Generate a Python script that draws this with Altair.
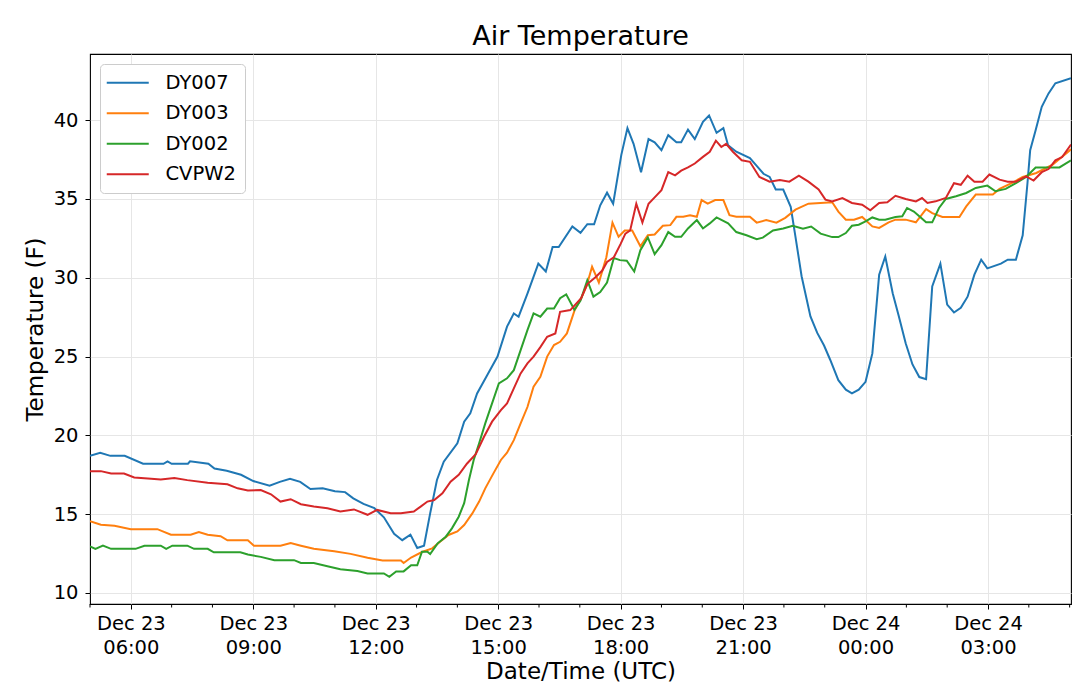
import altair as alt
import pandas as pd

# ---------------- data (hours since 2018-12-23 00:00 UTC, temperature F) ----------------
STATIONS = ["DY007", "DY003", "DY002", "CVPW2"]
COLORS = ["#1f77b4", "#ff7f0e", "#2ca02c", "#d62728"]

DY007_H = [5.0, 5.25, 5.5, 5.85, 6.3, 6.8, 6.9, 7.0, 7.4, 7.45, 7.9, 8.05, 8.35, 8.7, 9.0, 9.4,
           9.65, 9.9, 10.15, 10.4, 10.7, 11.0, 11.25, 11.45, 11.7, 11.96, 12.2, 12.45, 12.65,
           12.85, 13.02, 13.18, 13.34, 13.5, 13.67, 14.0, 14.16, 14.32, 14.49, 14.73, 14.98,
           15.22, 15.38, 15.5, 15.71, 15.99, 16.16, 16.33, 16.49, 16.82, 17.02, 17.18, 17.35,
           17.5, 17.66, 17.82, 18.02, 18.17, 18.31, 18.5, 18.68, 18.84, 19.0, 19.17, 19.37,
           19.49, 19.65, 19.82, 20.02, 20.17, 20.35, 20.51, 20.63, 20.84, 21.16, 21.33, 21.5,
           21.65, 21.8, 21.98, 22.16, 22.28, 22.44, 22.65, 22.81, 22.98, 23.14, 23.34, 23.51,
           23.67, 23.84, 24.0, 24.16, 24.33, 24.49, 24.66, 24.82, 24.98, 25.15, 25.31, 25.49,
           25.64, 25.84, 26.0, 26.17, 26.34, 26.5, 26.66, 26.83, 26.99, 27.32, 27.48, 27.69,
           27.85, 27.96, 28.04, 28.16, 28.32, 28.49, 28.65, 29.03]
DY007_T = [18.7, 18.9, 18.7, 18.7, 18.2, 18.2, 18.35, 18.2, 18.2, 18.35, 18.2, 17.9, 17.75,
           17.5, 17.1, 16.8, 17.05, 17.25, 17.05, 16.6, 16.65, 16.45, 16.4, 16.0, 15.65, 15.38,
           14.8, 13.75, 13.35, 13.7, 12.85, 13.0, 15.05, 17.17, 18.33, 19.5, 20.87, 21.4, 22.66,
           23.83, 25.0, 26.9, 27.74, 27.53, 29.0, 30.9, 30.4, 31.95, 31.95, 33.26, 32.85, 33.4,
           33.4, 34.6, 35.4, 34.7, 37.8, 39.5, 38.5, 36.7, 38.8, 38.6, 38.1, 39.05, 38.6, 38.6,
           39.4, 38.8, 39.9, 40.3, 39.2, 39.5, 38.4, 38.0, 37.6, 37.1, 36.6, 36.4, 35.6, 35.6,
           34.5, 32.6, 30.1, 27.55, 26.5, 25.7, 24.8, 23.5, 22.9, 22.67, 22.9, 23.4, 25.2, 30.2,
           31.35, 29.0, 27.55, 25.85, 24.5, 23.7, 23.56, 29.45, 30.9, 28.3, 27.8, 28.1, 28.8,
           30.2, 31.15, 30.6, 30.9, 31.15, 31.15, 32.7, 36.0, 38.1, 39.36, 40.85, 41.7, 42.34,
           42.66]

DY003_H = [5.0, 5.27, 5.6, 6.0, 6.65, 6.98, 7.47, 7.67, 7.88, 8.2, 8.37, 8.86, 9.02, 9.67, 9.92,
           10.16, 10.49, 10.98, 11.39, 11.8, 12.16, 12.61, 12.69, 12.86, 13.14, 13.39, 13.59,
           13.79, 14.0, 14.16, 14.36, 14.53, 14.69, 14.89, 15.06, 15.22, 15.38, 15.55, 15.71,
           15.87, 16.03, 16.2, 16.36, 16.52, 16.69, 16.86, 17.05, 17.17, 17.3, 17.47, 17.65,
           17.8, 17.95, 18.1, 18.28, 18.49, 18.66, 18.84, 19.04, 19.21, 19.37, 19.53, 19.7,
           19.86, 19.98, 20.14, 20.31, 20.51, 20.67, 20.84, 21.16, 21.33, 21.57, 21.81, 22.03,
           22.28, 22.6, 23.18, 23.34, 23.51, 23.71, 23.92, 24.16, 24.33, 24.57, 24.74, 24.98,
           25.23, 25.48, 25.64, 25.89, 26.3, 26.46, 26.7, 27.11, 27.28, 27.61, 27.85, 28.18,
           28.59, 29.03]
DY003_T = [14.55, 14.33, 14.26, 14.05, 14.05, 13.7, 13.7, 13.87, 13.7, 13.6, 13.34, 13.34, 13.0,
           13.0, 13.17, 13.0, 12.8, 12.65, 12.48, 12.23, 12.06, 12.06, 11.9, 12.25, 12.6, 12.83,
           13.26, 13.68, 13.9, 14.31, 15.05, 15.8, 16.64, 17.59, 18.44, 18.9, 19.7, 20.76, 21.8,
           23.09, 23.72, 25.0, 25.73, 25.94, 26.47, 27.9, 28.8, 29.5, 30.7, 29.7, 31.3, 33.5,
           32.6, 33.0, 33.0, 32.0, 32.7, 32.75, 33.3, 33.34, 33.87, 33.87, 33.97, 33.87, 34.93,
           34.7, 34.93, 34.93, 33.97, 33.87, 33.87, 33.5, 33.66, 33.5, 33.8, 34.32, 34.7, 34.79,
           34.2, 33.69, 33.69, 33.86, 33.26, 33.16, 33.52, 33.69, 33.69, 33.52, 34.36, 34.1,
           33.86, 33.86, 34.53, 35.28, 35.28, 35.64, 36.06, 36.4, 36.65, 37.18, 38.15]

DY002_H = [5.0, 5.14, 5.31, 5.51, 6.12, 6.33, 6.73, 6.86, 7.02, 7.39, 7.55, 7.88, 8.04, 8.69,
           8.86, 9.18, 9.51, 10.0, 10.16, 10.49, 10.82, 11.14, 11.55, 11.8, 12.2, 12.33, 12.5,
           12.69, 12.86, 13.02, 13.14, 13.26, 13.34, 13.51, 13.71, 13.87, 14.04, 14.16, 14.28,
           14.4, 14.53, 14.69, 14.85, 15.02, 15.22, 15.38, 15.55, 15.71, 15.87, 16.03, 16.2,
           16.36, 16.52, 16.67, 16.86, 17.02, 17.18, 17.34, 17.5, 17.66, 17.84, 17.98, 18.15,
           18.33, 18.49, 18.66, 18.84, 19.0, 19.17, 19.33, 19.49, 19.65, 19.86, 20.02, 20.18,
           20.35, 20.63, 20.84, 21.08, 21.33, 21.49, 21.73, 21.98, 22.22, 22.46, 22.67, 22.9,
           23.18, 23.34, 23.51, 23.67, 23.84, 24.0, 24.16, 24.33, 24.49, 24.74, 24.9, 25.02,
           25.19, 25.31, 25.48, 25.64, 25.8, 25.97, 26.21, 26.46, 26.7, 26.98, 27.19, 27.43,
           27.69, 27.93, 28.16, 28.75, 29.03]
DY002_T = [12.96, 12.8, 13.0, 12.8, 12.8, 13.0, 13.0, 12.8, 13.0, 13.0, 12.8, 12.8, 12.58,
           12.58, 12.44, 12.29, 12.08, 12.08, 11.9, 11.9, 11.7, 11.5, 11.39, 11.24, 11.24, 11.03,
           11.37, 11.37, 11.76, 11.76, 12.62, 12.62, 12.47, 13.15, 13.57, 14.1, 14.84, 15.7,
           17.17, 18.44, 19.5, 20.76, 22.03, 23.3, 23.62, 24.14, 25.41, 26.68, 27.74, 27.53,
           28.05, 28.05, 28.7, 28.95, 27.97, 28.56, 29.85, 28.8, 29.1, 29.7, 31.25, 31.12, 31.08,
           30.4, 31.75, 32.56, 31.5, 32.07, 32.9, 32.6, 32.6, 33.13, 33.66, 33.13, 33.45, 33.83,
           33.45, 32.9, 32.7, 32.45, 32.55, 33.0, 33.13, 33.3, 33.12, 33.25, 32.8, 32.58, 32.58,
           32.84, 33.3, 33.37, 33.58, 33.83, 33.69, 33.69, 33.86, 33.9, 34.43, 34.2, 33.9, 33.52,
           33.52, 34.43, 35.0, 35.17, 35.38, 35.7, 35.85, 35.49, 35.64, 36.0, 36.4, 37.0, 37.0,
           37.45]

CVPW2_H = [5.0, 5.27, 5.51, 5.84, 6.08, 6.41, 6.73, 7.06, 7.39, 7.88, 8.37, 8.61, 8.86, 9.18,
           9.43, 9.67, 9.92, 10.16, 10.49, 10.82, 11.14, 11.47, 11.8, 12.04, 12.37, 12.61, 12.94,
           13.1, 13.26, 13.43, 13.63, 13.83, 14.04, 14.24, 14.45, 14.65, 14.85, 15.06, 15.22,
           15.38, 15.55, 15.71, 15.87, 16.03, 16.2, 16.4, 16.52, 16.77, 17.03, 17.18, 17.39,
           17.55, 17.67, 17.84, 18.0, 18.12, 18.24, 18.38, 18.53, 18.69, 18.84, 19.0, 19.17,
           19.33, 19.49, 19.65, 19.82, 20.02, 20.18, 20.33, 20.47, 20.59, 20.75, 20.96, 21.16,
           21.4, 21.65, 21.9, 22.14, 22.36, 22.6, 22.85, 23.02, 23.18, 23.43, 23.67, 23.92,
           24.12, 24.33, 24.53, 24.74, 24.98, 25.23, 25.39, 25.52, 25.72, 25.97, 26.17, 26.34,
           26.5, 26.66, 26.87, 27.03, 27.28, 27.48, 27.69, 27.93, 28.12, 28.32, 28.49, 28.65,
           28.81, 29.03]
CVPW2_T = [17.73, 17.73, 17.58, 17.58, 17.33, 17.27, 17.2, 17.3, 17.16, 17.0, 16.9, 16.64, 16.5,
           16.53, 16.26, 15.8, 15.95, 15.63, 15.48, 15.38, 15.17, 15.3, 14.96, 15.27, 15.06,
           15.06, 15.17, 15.48, 15.8, 15.9, 16.32, 17.06, 17.5, 18.2, 18.8, 19.9, 20.87, 21.6,
           22.03, 22.98, 23.93, 24.57, 25.0, 25.6, 26.26, 26.47, 27.84, 27.95, 28.7, 29.6, 30.04,
           30.46, 31.0, 31.3, 32.15, 32.8, 33.0, 34.7, 33.5, 34.7, 35.1, 35.56, 36.7, 36.5, 36.8,
           37.0, 37.25, 37.67, 38.0, 38.7, 38.3, 38.5, 38.0, 37.46, 37.36, 36.4, 36.1, 36.2, 36.1,
           36.48, 36.1, 35.6, 34.96, 34.85, 35.06, 34.75, 34.64, 34.28, 34.75, 34.79, 35.2, 35.0,
           34.85, 35.06, 34.75, 34.85, 35.06, 36.0, 35.9, 36.48, 36.1, 36.1, 36.55, 36.23, 36.1,
           36.1, 36.44, 36.17, 36.7, 36.9, 37.45, 37.66, 38.45]

MINOR_TICK_H = [5, 7, 8, 10, 11, 13, 14, 16, 17, 19, 20, 22, 23, 25, 26, 28, 29]
Y_TICKS = [10, 15, 20, 25, 30, 35, 40]


def ts(h):
    m = int(round(h * 60))
    d = 23 + m // 1440
    m = m % 1440
    return f"2018-12-{d:02d}T{m // 60:02d}:{m % 60:02d}:00Z"


def dt(day, hour, minute=0):
    return alt.DateTime(year=2018, month=12, date=day, hours=hour, minutes=minute, utc=True)


series = {"DY007": (DY007_H, DY007_T), "DY003": (DY003_H, DY003_T),
          "DY002": (DY002_H, DY002_T), "CVPW2": (CVPW2_H, CVPW2_T)}
rows = []
for name in STATIONS:
    hs, vs = series[name]
    for h, v in zip(hs, vs):
        rows.append({"time": ts(h), "temp": v, "station": name})
df = pd.DataFrame(rows)
minor_df = pd.DataFrame({"time": [ts(h) for h in MINOR_TICK_H]})

FONT = "DejaVu Sans"
W, H = 981, 550

x_scale = alt.Scale(type="utc", domain=[dt(23, 5), dt(24, 5, 2)], nice=False)
x_ticks = [dt(23, 6), dt(23, 9), dt(23, 12), dt(23, 15), dt(23, 18), dt(23, 21), dt(24, 0), dt(24, 3)]
x_axis = alt.Axis(values=x_ticks,
                  labelExpr="[utcFormat(datum.value, '%b %d'), utcFormat(datum.value, '%H:%M')]",
                  labelFontSize=19.5, labelFont=FONT, labelColor="black",
                  labelLineHeight=24, labelPadding=5, labelOverlap=False, labelFlush=False,
                  tickSize=5, tickColor="black", tickWidth=1,
                  grid=True, gridColor="#e6e6e6", gridWidth=1, domain=False,
                  titleFontSize=23, titleFont=FONT, titleFontWeight="normal",
                  titleColor="black", titleBaseline="alphabetic", titleY=74)

lines = alt.Chart(df).mark_line(strokeWidth=2, clip=True).encode(
    x=alt.X("time:T", scale=x_scale, title="Date/Time (UTC)", axis=x_axis),
    y=alt.Y("temp:Q", scale=alt.Scale(domain=[9.3, 44.2], nice=False, zero=False),
            title="Temperature (F)",
            axis=alt.Axis(values=Y_TICKS, labelFontSize=19.5, labelFont=FONT, labelColor="black",
                          labelPadding=7, tickSize=5, tickColor="black", tickWidth=1,
                          grid=True, gridColor="#e6e6e6", gridWidth=1, domain=False,
                          titleFontSize=23, titleFont=FONT, titleFontWeight="normal",
                          titleColor="black", titleBaseline="alphabetic", titleX=-48)),
    color=alt.Color("station:N", scale=alt.Scale(domain=STATIONS, range=COLORS),
                    legend=alt.Legend(title=None, orient="top-left", offset=10,
                                      symbolType="M-3,0H3", symbolSize=196, symbolStrokeWidth=2,
                                      symbolOffset=9, symbolFillColor="transparent",
                                      labelFontSize=19.5, labelFont=FONT, labelColor="black",
                                      labelOffset=28, padding=9, rowPadding=9.5,
                                      fillColor="white", strokeColor="#cccccc", cornerRadius=4)),
)

minor = alt.Chart(minor_df).mark_rule(color="black", strokeWidth=1).encode(
    x=alt.X("time:T", scale=x_scale, title="Date/Time (UTC)", axis=x_axis),
    y=alt.value(H),
    y2=alt.value(H + 3.5),
)

chart = alt.layer(lines, minor).properties(
    width=W, height=H,
    title=alt.TitleParams("Air Temperature", fontSize=27, font=FONT, fontWeight="normal",
                          color="black", anchor="middle", offset=3),
    autosize=alt.AutoSizeParams(type="none"),
    padding={"left": 82, "top": 46, "right": 1, "bottom": 82},
).configure_view(stroke="black", strokeWidth=1.1)

chart.save("out.html", embed_options={"renderer": "svg", "actions": False})
